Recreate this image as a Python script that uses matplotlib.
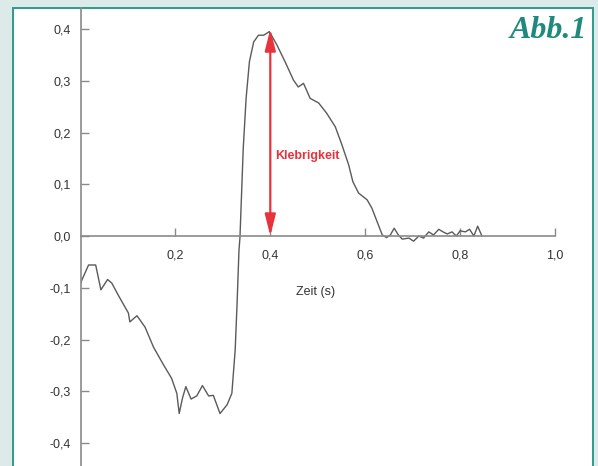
import matplotlib.pyplot as plt
from matplotlib.patches import Rectangle

# === Data ===
zeit = [0.000, 0.017, 0.032, 0.043, 0.057, 0.066, 0.080, 0.101, 0.104, 0.119,
        0.136, 0.154, 0.175, 0.192, 0.203, 0.208, 0.215, 0.222, 0.233, 0.245,
        0.257, 0.270, 0.280, 0.294, 0.309, 0.319, 0.326, 0.330, 0.334, 0.336,
        0.343, 0.349, 0.356, 0.365, 0.375, 0.386, 0.398, 0.414, 0.431, 0.449,
        0.459, 0.470, 0.484, 0.502, 0.519, 0.537, 0.551, 0.565, 0.574, 0.586,
        0.604, 0.614, 0.625, 0.636, 0.645, 0.653, 0.661, 0.670, 0.678, 0.692,
        0.702, 0.713, 0.723, 0.734, 0.744, 0.755, 0.764, 0.773, 0.783, 0.792,
        0.800, 0.811, 0.820, 0.829, 0.837, 0.846]
kraft = [-0.091, -0.056, -0.056, -0.104, -0.084, -0.091, -0.115, -0.149, -0.166, -0.154,
         -0.176, -0.215, -0.249, -0.275, -0.304, -0.343, -0.313, -0.291, -0.315, -0.309,
         -0.289, -0.309, -0.308, -0.343, -0.326, -0.304, -0.220, -0.130, -0.027, -0.004,
         0.170, 0.266, 0.337, 0.375, 0.388, 0.388, 0.395, 0.369, 0.337, 0.301,
         0.288, 0.295, 0.266, 0.257, 0.237, 0.211, 0.176, 0.138, 0.105, 0.083,
         0.070, 0.054, 0.028, 0.002, -0.003, 0.002, 0.015, 0.002, -0.006, -0.004,
         -0.010, 0.000, -0.004, 0.008, 0.002, 0.013, 0.008, 0.004, 0.008, 0.000,
         0.010, 0.008, 0.013, 0.000, 0.019, 0.000]

x_ticks = [0.2, 0.4, 0.6, 0.8, 1.0]
y_ticks = [-0.4, -0.3, -0.2, -0.1, 0.0, 0.1, 0.2, 0.3, 0.4]
peak_x = 0.4
peak_y = 0.4

# === Figure ===
fig = plt.figure(figsize=(5.98, 4.66), dpi=100)
fig.patch.set_facecolor("#dcebea")

# white panel with teal border (behind the axes)
panel = Rectangle((13 / 598, -0.05), 580 / 598, 1.05 - 8 / 466, transform=fig.transFigure,
                  facecolor="white", edgecolor="#2f9a8c", lw=1.4, zorder=-5)
fig.patches.append(panel)

ax = fig.add_axes([80.5 / 598, 0, (555 - 80.5) / 598, (466 - 8) / 466])
ax.set_zorder(1)
ax.patch.set_visible(False)
ax.set_xlim(0, 1.0)
ax.set_ylim(-0.4444, 0.4406)

ax.plot(zeit, kraft, color="#5a5a5a", lw=1.0)

# spines
for s in ["top", "right"]:
    ax.spines[s].set_visible(False)
ax.spines["bottom"].set_position(("data", 0))
for s in ["left", "bottom"]:
    ax.spines[s].set_color("#8a8a8a")
    ax.spines[s].set_linewidth(1.2)

fmt = lambda v: f"{v:.1f}".replace(".", ",")
ax.set_xticks(x_ticks)
ax.set_xticklabels([fmt(v) for v in x_ticks])
ax.set_yticks(y_ticks)
ax.set_yticklabels([fmt(v) for v in y_ticks])
ax.tick_params(axis="both", direction="in", color="#8a8a8a", length=6, width=1.0,
               labelcolor="#333333", labelsize=9)
ax.tick_params(axis="x", pad=10)
ax.tick_params(axis="y", pad=7)
for lbl in ax.get_xticklabels() + ax.get_yticklabels():
    lbl.set_fontfamily("Liberation Sans")

ax.text(0.495, -0.108, "Zeit (s)", ha="center", va="center", fontsize=9,
        color="#333333", family="Liberation Sans")

# Klebrigkeit arrow
ax.annotate("", xy=(peak_x, peak_y), xytext=(peak_x, 0.0),
            arrowprops=dict(arrowstyle="<|-|>,head_length=1.0,head_width=0.25",
                            color="#e8323c", lw=1.6, mutation_scale=13,
                            shrinkA=0, shrinkB=0))
ax.text(0.411, 0.155, "Klebrigkeit", color="#e8323c", fontsize=9, fontweight="bold",
        ha="left", va="center", family="Liberation Sans")

fig.text(587 / 598, 1 - 30 / 466, "Abb.1", ha="right", va="center", fontsize=23,
         style="italic", fontweight="bold", color="#1f8a7c", family="Liberation Serif")

fig.savefig("out.png", dpi=100, facecolor=fig.get_facecolor())
